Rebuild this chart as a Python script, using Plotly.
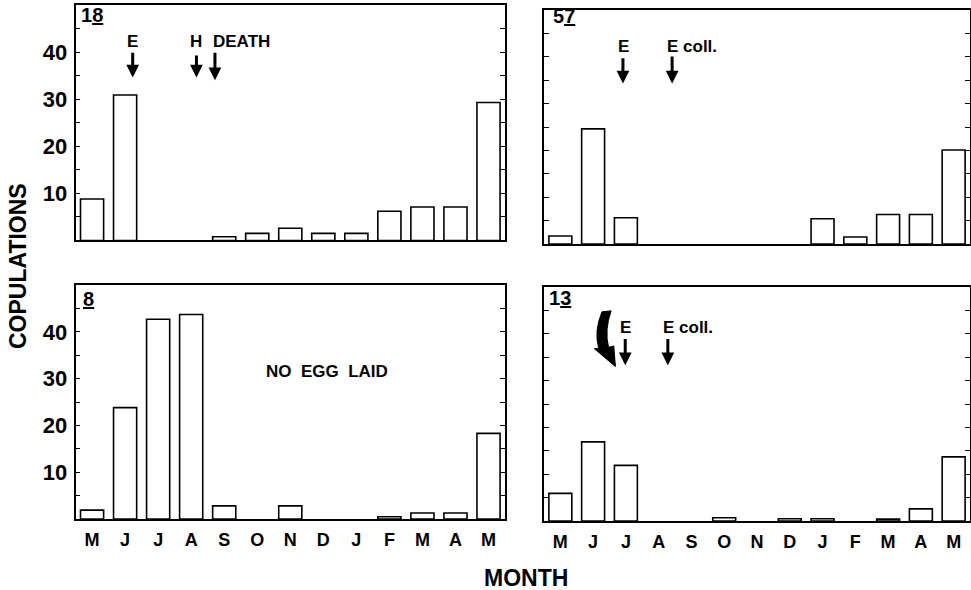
import plotly.graph_objects as go

# ---------------- data ----------------
months = ["M", "J", "J", "A", "S", "O", "N", "D", "J", "F", "M", "A", "M"]
panel_names = ["18", "57", "8", "13"]
cop_18 = [8.8, 30.9, 0, 0, 0.8, 1.5, 2.6, 1.5, 1.5, 6.2, 7.1, 7.1, 29.3]
cop_57 = [1.7, 24.6, 5.6, 0, 0, 0, 0, 0, 5.4, 1.5, 6.3, 6.3, 20.1]
cop_8 = [1.9, 23.8, 42.7, 43.7, 2.8, 0, 2.8, 0, 0, 0.5, 1.3, 1.3, 18.3]
cop_13 = [5.9, 16.9, 11.9, 0, 0, 0.7, 0, 0.5, 0.5, 0, 0.4, 2.6, 13.7]
ytick_vals = [5, 10, 15, 20, 25, 30, 35, 40, 45]
ytick_text = ["", "10", "", "20", "", "30", "", "40", ""]

series = [cop_18, cop_57, cop_8, cop_13]

# ---------------- style / layout ----------------
FONT = "Liberation Sans, Arial, Helvetica, sans-serif"
x_dom = [[0.0778, 0.5201], [0.5602, 0.999], [0.0778, 0.5201], [0.5602, 0.999]]
y_dom = [[0.5924, 0.9915], [0.5864, 0.983], [0.1203, 0.5169], [0.1169, 0.5136]]
show_x_labels = [False, False, True, True]
show_y_labels = [True, False, True, False]

fig = go.Figure()
x_idx = list(range(len(months)))
for i, vals in enumerate(series):
    s = "" if i == 0 else str(i + 1)
    shown = [v if v > 0 else None for v in vals]  # zero months: no outline box
    fig.add_trace(go.Bar(
        x=x_idx, y=shown, xaxis="x" + s, yaxis="y" + s, width=0.7,
        marker=dict(color="white", line=dict(color="black", width=1.6)),
        showlegend=False, hoverinfo="skip"))

layout = dict(
    width=971, height=590,
    margin=dict(l=0, r=0, t=0, b=0),
    paper_bgcolor="white", plot_bgcolor="white",
    font=dict(family=FONT, color="black", weight="bold"),
    showlegend=False,
)
for i in range(4):
    s = "" if i == 0 else str(i + 1)
    layout["xaxis" + s] = dict(
        domain=x_dom[i], range=[-0.5, 12.5], anchor="y" + s,
        showline=True, mirror=True, linecolor="black", linewidth=1.6,
        ticks="", tickvals=x_idx, ticktext=months,
        showticklabels=show_x_labels[i], ticklabelstandoff=4,
        tickfont=dict(size=18, family=FONT, color="black", weight="bold"),
        showgrid=False, zeroline=False, fixedrange=True)
    layout["yaxis" + s] = dict(
        domain=y_dom[i], range=[0, 50], anchor="x" + s,
        showline=True, mirror="ticks", linecolor="black", linewidth=1.6,
        ticks="inside", ticklen=5, tickwidth=1.3, tickcolor="black",
        tickvals=ytick_vals, ticktext=ytick_text,
        showticklabels=show_y_labels[i], ticklabelstandoff=2,
        tickfont=dict(size=22, family=FONT, color="black", weight="bold"),
        showgrid=False, zeroline=False, fixedrange=True)

fig.update_layout(**layout)

# ---------------- annotations ----------------
ann = []

def txt(text, x, y, ref, size=16, xanchor="center"):
    ann.append(dict(text=text, x=x, y=y, xref="x" + ref, yref="y" + ref,
                    showarrow=False, xanchor=xanchor, yanchor="middle",
                    font=dict(size=size, family=FONT, color="black", weight="bold")))

def arrow(x, y_tail, y_tip, ref):
    ann.append(dict(text="", x=x, y=y_tip, ax=x, ay=y_tail,
                    xref="x" + ref, yref="y" + ref, axref="x" + ref, ayref="y" + ref,
                    showarrow=True, arrowhead=2, arrowsize=0.85, arrowwidth=3,
                    arrowcolor="black", standoff=0, startstandoff=0))

# panel labels (last digit underlined)
label_pos = [(0.0, 47.9, ""), (0.1, 48.7, "2"), (-0.1, 47.1, "3"), (0.0, 47.7, "4")]
for name, (lx, ly, ref) in zip(panel_names, label_pos):
    lab = name[:-1] + "<u>" + name[-1] + "</u>"
    txt(lab, lx, ly, ref, size=20)

# panel 18
txt("E", 1.23, 42.2, "", size=17)
arrow(1.23, 40.2, 34.6, "")
txt("H", 3.16, 42.2, "", size=17)
arrow(3.16, 39.6, 34.6, "")
txt("DEATH", 3.60, 42.2, "", size=17, xanchor="left")
arrow(3.72, 40.2, 34.0, "")

# panel 57
txt("E", 1.92, 42.2, "2", size=17)
arrow(1.91, 40.0, 34.3, "2")
txt("E coll.", 3.20, 42.2, "2", size=17, xanchor="left")
arrow(3.41, 40.4, 34.3, "2")

# panel 8
txt("NO  EGG  LAID", 7.12, 31.6, "3", size=17)

# panel 13
txt("E", 2.0, 41.3, "4", size=17)
arrow(1.98, 39.2, 33.3, "4")
txt("E coll.", 3.08, 41.3, "4", size=17, xanchor="left")
arrow(3.28, 39.2, 33.3, "4")

fig.update_layout(annotations=ann)

# curved bold arrow in panel 13
fig.add_shape(type="path", xref="x4", yref="y4",
              path="M 1.27,44.7 Q 1.02,40.5 1.17,36.9 L 1.04,36.8 L 1.68,33.0 "
                   "L 1.63,37.4 L 1.47,37.1 Q 1.34,40.8 1.55,44.9 Z",
              fillcolor="black", line=dict(color="black", width=1))

# axis titles
fig.add_annotation(text="COPULATIONS", x=18 / 971, y=1 - 266 / 590, xref="paper", yref="paper",
                   textangle=-90, showarrow=False, xanchor="center", yanchor="middle",
                   font=dict(size=23, family=FONT, color="black", weight="bold"))
fig.add_annotation(text="MONTH", x=526 / 971, y=1 - 578 / 590, xref="paper", yref="paper",
                   showarrow=False, xanchor="center", yanchor="middle",
                   font=dict(size=23, family=FONT, color="black", weight="bold"))

fig.write_html("out.html")
